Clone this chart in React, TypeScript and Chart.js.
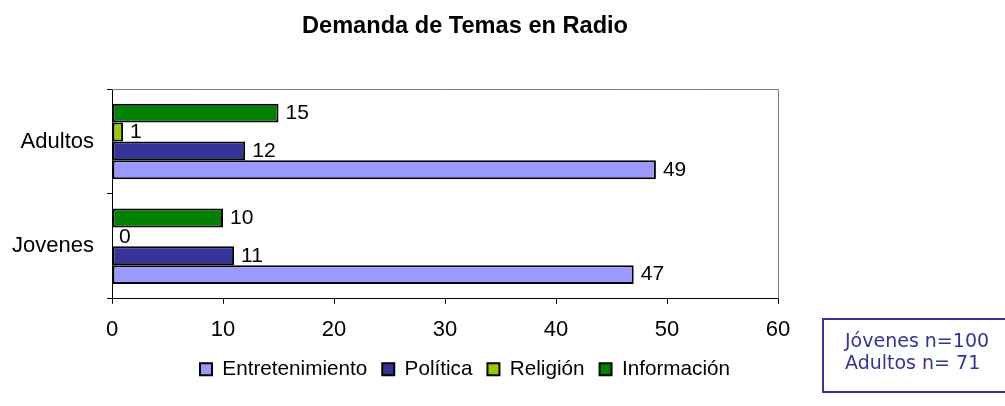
import React, { useEffect, useRef } from "react";
import { Chart, registerables } from "chart.js";

Chart.register(...registerables);

const categories = ["Adultos", "Jovenes"];
const seriesNames = ["Entretenimiento", "Política", "Religión", "Información"];
const entretenimiento = [49, 47];
const politica = [12, 11];
const religion = [1, 0];
const informacion = [15, 10];
const xTicks = [0, 10, 20, 30, 40, 50, 60];
const titleText = "Demanda de Temas en Radio";
const noteLines = ["Jóvenes n=100", "Adultos n= 71"];

const colors = ["#9999FF", "#333399", "#99CC00", "#008000"];

const FONT = "'Liberation Sans', Arial, sans-serif";

const valueLabels = {
  id: "valueLabels",
  afterDatasetsDraw(chart: any) {
    const ctx = chart.ctx;
    ctx.save();
    ctx.font = `21px ${FONT}`;
    ctx.fillStyle = "#000";
    ctx.textAlign = "left";
    ctx.textBaseline = "middle";
    chart.data.datasets.forEach((ds: any, di: number) => {
      const meta = chart.getDatasetMeta(di);
      meta.data.forEach((el: any, i: number) => {
        ctx.fillText(String(ds.data[i]), el.x + 7, el.y);
      });
    });
    ctx.restore();
  },
};

const frameLines = {
  id: "frameLines",
  beforeDatasetsDraw(chart: any) {
    const { ctx, chartArea: a } = chart;
    ctx.save();
    ctx.strokeStyle = "#808080";
    ctx.lineWidth = 1;
    ctx.beginPath();
    ctx.moveTo(a.left, a.top + 0.5);
    ctx.lineTo(a.right + 0.5, a.top + 0.5);
    ctx.lineTo(a.right + 0.5, a.bottom);
    ctx.stroke();
    ctx.restore();
  },
};

export default function App() {
  const ref = useRef<HTMLCanvasElement>(null);

  useEffect(() => {
    if (!ref.current) return;
    const values = [entretenimiento, politica, religion, informacion];
    const order = [3, 2, 1, 0];
    const chart = new Chart(ref.current, {
      type: "bar",
      data: {
        labels: categories,
        datasets: order.map((k) => ({
          label: seriesNames[k],
          data: values[k],
          backgroundColor: colors[k],
          borderColor: "#000",
          borderWidth: 2,
          borderSkipped: false,
          categoryPercentage: 0.72,
          barPercentage: 1.0,
        })),
      },
      options: {
        indexAxis: "y",
        animation: false,
        responsive: false,
        maintainAspectRatio: false,
        layout: { padding: { left: 0, right: 0, top: 0, bottom: 16.5 } },
        plugins: {
          title: {
            display: true,
            text: titleText,
            color: "#000",
            font: { family: FONT, size: 23.6, weight: "bold" },
            padding: { top: 12.8, bottom: 47.9 },
          },
          legend: {
            position: "bottom",
            reverse: true,
            labels: {
              color: "#000",
              font: { family: FONT, size: 20.7 },
              boxWidth: 12,
              boxHeight: 12,
              padding: 15,
            },
          },
          tooltip: { enabled: false },
        },
        scales: {
          x: {
            min: 0,
            max: 60,
            afterBuildTicks(scale: any) {
              scale.ticks = xTicks.map((v) => ({ value: v }));
            },
            afterFit(scale: any) {
              scale.height = 45;
            },
            grid: {
              drawOnChartArea: false,
              drawTicks: true,
              tickLength: 5,
              color: "#000",
            },
            border: { color: "#000", width: 1 },
            ticks: {
              color: "#000",
              font: { family: FONT, size: 22 },
              padding: 13,
            },
          },
          y: {
            afterFit(scale: any) {
              scale.width = 112;
            },
            grid: {
              offset: true,
              drawOnChartArea: false,
              drawTicks: true,
              tickLength: 5,
              color: "#000",
            },
            border: { color: "#000", width: 1 },
            ticks: {
              color: "#000",
              font: { family: FONT, size: 22 },
              padding: 13,
            },
          },
          spacer: {
            type: "linear",
            position: "right",
            afterFit(scale: any) {
              scale.width = 152;
            },
            grid: { display: false },
            border: { display: false },
            ticks: { display: false },
          },
        },
      },
      plugins: [frameLines, valueLabels],
    });
    return () => chart.destroy();
  }, []);

  return (
    <div
      style={{
        position: "fixed",
        left: 0,
        top: 0,
        width: 1005,
        height: 406,
        overflow: "hidden",
        background: "#fff",
      }}
    >
      <canvas ref={ref} width={930} height={406} style={{ position: "absolute", left: 0, top: 0 }} />
      <div
        style={{
          position: "absolute",
          left: 822,
          top: 318,
          width: 200,
          height: 71,
          border: "2px solid #333399",
          boxSizing: "content-box",
        }}
      >
        <div
          style={{
            position: "absolute",
            left: 21,
            top: 10,
            fontFamily: "'DejaVu Sans', Verdana, sans-serif",
            fontSize: 19,
            lineHeight: "21.5px",
            color: "#333399",
            whiteSpace: "pre",
          }}
        >
          {noteLines.map((l, i) => (
            <div key={i}>{l}</div>
          ))}
        </div>
      </div>
    </div>
  );
}
